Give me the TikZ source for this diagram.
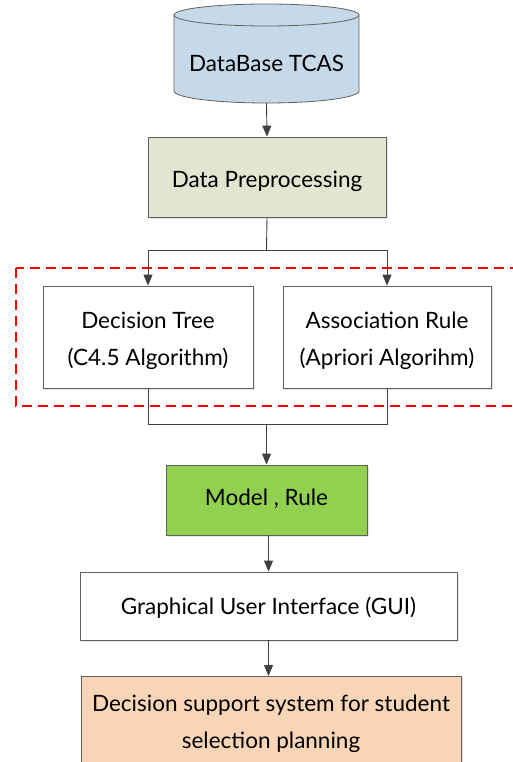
\documentclass[tikz,border=0pt]{standalone}
\usepackage{fontspec}
\setmainfont{Lato}
\usetikzlibrary{arrows.meta,shadows}
\definecolor{dbblue}{HTML}{C6D9E8}
\definecolor{prepgreen}{HTML}{E0E6D0}
\definecolor{modelgreen}{HTML}{92D050}
\definecolor{peach}{HTML}{F8D5B6}
\definecolor{linegray}{HTML}{404040}
\definecolor{boxgray}{HTML}{606060}
\tikzset{
  box/.style={draw=boxgray, line width=0.8pt, align=center, inner sep=0pt,
    drop shadow={shadow xshift=1.5pt, shadow yshift=-1.5pt, fill=black!20}},
  conn/.style={draw=linegray, line width=0.9pt},
  arr/.style={conn, -{Triangle[length=11pt,width=9pt]}},
  txt/.style={font=\fontsize{22.5}{37}\selectfont, inner sep=0pt, align=center},
}
\begin{document}
\begin{tikzpicture}[x=1pt,y=-1pt]
\useasboundingbox (0,0) rectangle (512,762);
% cylinder
\filldraw[fill=dbblue, draw=boxgray, line width=0.8pt]
  (174,15) -- (174,91) arc[start angle=180,end angle=360,x radius=92.5pt,y radius=12pt]
  -- (359,15) arc[start angle=0,end angle=180,x radius=92.5pt,y radius=11pt] -- cycle;
\draw[draw=boxgray, line width=0.8pt] (174,15) arc[start angle=180,end angle=360,x radius=92.5pt,y radius=11pt];
\node[minimum width=185pt, minimum height=99pt, inner sep=0pt] (db) at (266.5,53.5) {};
\node[txt] (dbt) at (266.5,63) {DataBase TCAS};
% boxes
\node[box, fill=prepgreen, minimum width=238pt, minimum height=80pt] (prep) at (267,177) {};
\node[txt] (prept) at (267,181) {Data Preprocessing};
\node[box, fill=white, minimum width=210pt, minimum height=102pt] (dt) at (148,337) {};
\node[txt] (dtt) at (148,341) {Decision Tree\\(C4.5 Algorithm)};
\node[box, fill=white, minimum width=208pt, minimum height=102pt] (ar) at (387,337) {};
\node[txt] (art) at (387,341) {Association Rule\\(Apriori Algorihm)};
\node[box, fill=modelgreen, minimum width=201pt, minimum height=70pt] (model) at (266.5,500) {};
\node[txt] (modelt) at (266.5,499) {Model , Rule};
\node[box, fill=white, minimum width=377pt, minimum height=68pt] (gui) at (268.5,606) {};
\node[txt] (guit) at (268.5,608) {Graphical User Interface (GUI)};
\node[box, fill=peach, minimum width=380pt, minimum height=100pt, anchor=north] (dss) at (271,676) {};
\node[txt] (dsst) at (271,724) {Decision support system for student\\selection planning};
% dashed group
\draw[red, line width=1.2pt, dash pattern=on 10pt off 6pt] (16,268) rectangle (530,406);
% connectors
\coordinate (split) at (266.5,250);
\coordinate (merge) at (266.5,424);
\draw[arr] (db.south) -- (prep.north);
\draw[conn] (prep.south) -- (split);
\draw[arr] (split) -| (dt.north);
\draw[arr] (split) -| (ar.north);
\draw[conn] (dt.south) |- (merge);
\draw[conn] (ar.south) |- (merge);
\draw[arr] (merge) -- (model.north);
\draw[arr] (gui.north |- model.south) -- (gui.north);
\draw[arr] (gui.south) -- (gui.south |- dss.north);
\end{tikzpicture}
\end{document}
